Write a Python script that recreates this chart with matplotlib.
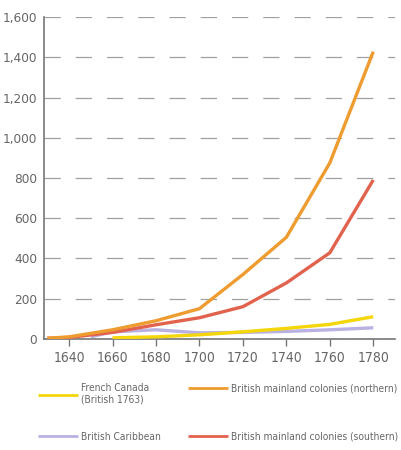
import matplotlib.pyplot as plt

plt.rcParams['font.family'] = ['DejaVu Sans']
plt.rcParams['font.stretch'] = 'condensed'

years = [1630, 1640, 1660, 1680, 1700, 1720, 1740, 1760, 1780]
northern = [3, 10, 45, 90, 150, 320, 505, 875, 1428]
southern = [3, 7, 32, 70, 105, 160, 278, 428, 790]
french_years = [1660, 1680, 1700, 1720, 1740, 1760, 1780]
french = [5, 10, 20, 35, 52, 72, 110]
carib_years = [1650, 1660, 1680, 1700, 1720, 1740, 1760, 1780]
caribbean = [10, 35, 45, 30, 32, 37, 45, 55]

grey = '#777777'
txt = '#666666'

fig = plt.figure(figsize=(4.01, 4.5), dpi=100)
ax = fig.add_axes([0.11, 0.247, 0.875, 0.715])

lw = 2.4
l_fr, = ax.plot(french_years, french, color='#f4d60a', lw=lw, solid_capstyle='butt', zorder=4)
l_ca, = ax.plot(carib_years, caribbean, color='#b9b1e2', lw=lw, solid_capstyle='butt', zorder=3)
l_so, = ax.plot(years, southern, color='#e2634d', lw=lw, solid_capstyle='butt', zorder=5)
l_no, = ax.plot(years, northern, color='#ee9b30', lw=lw, solid_capstyle='butt', zorder=6)

ax.set_xlim(1628.5, 1790)
ax.set_ylim(0, 1600)
ax.set_xticks(range(1640, 1781, 20))
ax.set_yticks(range(0, 1601, 200))
ax.set_yticklabels([f'{v:,}' for v in range(0, 1601, 200)])

ax.yaxis.grid(True, color='#a0a0a0', lw=0.9, dashes=(13, 12))
ax.set_axisbelow(True)

for s in ['top', 'right']:
    ax.spines[s].set_visible(False)
for s in ['left', 'bottom']:
    ax.spines[s].set_color(grey)
    ax.spines[s].set_linewidth(1.2)

ax.tick_params(axis='x', length=5, width=1, color=grey, labelcolor=txt, labelsize=10, pad=4)
ax.tick_params(axis='y', length=0, labelcolor=txt, labelsize=9.7, pad=5)

leg_kw = dict(frameon=False, loc='upper left', fontsize=7.3, handlelength=3.9,
              handletextpad=0.3, borderpad=0, borderaxespad=0, labelcolor=txt)
entries = [
    (l_fr, 'French Canada\n(British 1763)', (0.095, 0.148)),
    (l_no, 'British mainland colonies (northern)', (0.47, 0.148)),
    (l_ca, 'British Caribbean', (0.095, 0.041)),
    (l_so, 'British mainland colonies (southern)', (0.47, 0.041)),
]
for h, lab, pos in entries:
    lg = fig.legend([h], [lab], bbox_to_anchor=pos, **leg_kw)
    for line in lg.get_lines():
        line.set_linewidth(2)

fig.savefig('out.png', dpi=100)
